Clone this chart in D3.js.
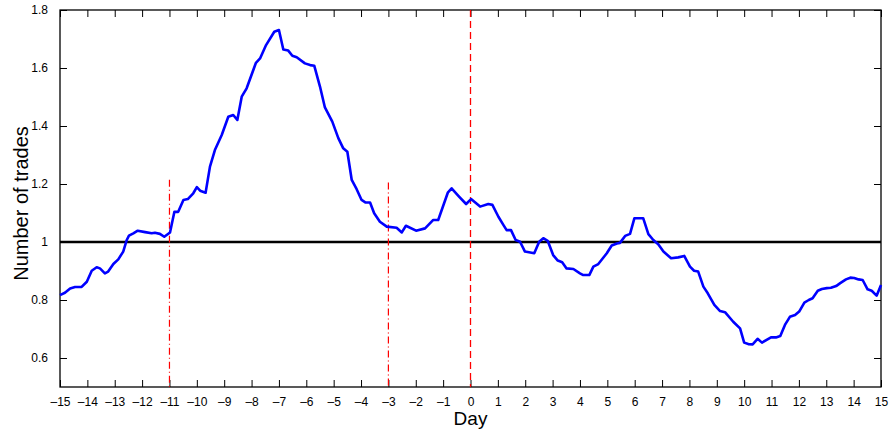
<!DOCTYPE html>
<html lang="en">
    <head>
        <meta charset="utf-8">
        <title>D3: Number of trades around event day</title>
        <script type="text/javascript" src="https://cdn.jsdelivr.net/npm/d3@7"></script>
        <style type="text/css">
            body { margin: 0; background: #fff; }
            text { font-family: "Liberation Sans", Arial, Helvetica, sans-serif; fill: #000; }
        </style>
    </head>
    <body>
        <script type="text/javascript">
            //Data
            var days = [-15.0, -14.82, -14.63, -14.45, -14.21, -14.02, -13.84, -13.66, -13.54, -13.36,
                        -13.24, -13.05, -12.87, -12.69, -12.56, -12.48, -12.32, -12.16, -11.89, -11.65,
                        -11.53, -11.35, -11.19, -10.98, -10.82, -10.68, -10.49, -10.33, -10.13, -10.0,
                        -9.88, -9.68, -9.52, -9.34, -9.09, -8.85, -8.67, -8.52, -8.36, -8.18,
                        -7.84, -7.69, -7.47, -7.17, -7.0, -6.84, -6.66, -6.51, -6.35, -6.05,
                        -5.86, -5.71, -5.5, -5.32, -5.05, -4.83, -4.65, -4.5, -4.34, -4.16,
                        -3.98, -3.83, -3.67, -3.52, -3.31, -3.06, -2.7, -2.51, -2.36, -1.99,
                        -1.66, -1.36, -1.18, -0.83, -0.69, -0.41, -0.16, 0.02, 0.35, 0.65,
                        0.8, 1.02, 1.2, 1.32, 1.48, 1.65, 1.81, 1.99, 2.33, 2.51,
                        2.66, 2.82, 3.02, 3.19, 3.35, 3.51, 3.76, 4.0, 4.12, 4.34,
                        4.49, 4.67, 4.98, 5.16, 5.35, 5.46, 5.65, 5.83, 5.99, 6.31,
                        6.5, 6.68, 6.86, 7.05, 7.33, 7.59, 7.81, 8.02, 8.17, 8.32,
                        8.51, 8.67, 8.91, 9.12, 9.3, 9.6, 9.85, 10.0, 10.15, 10.31,
                        10.49, 10.65, 10.98, 11.16, 11.32, 11.49, 11.67, 11.86, 12.01, 12.2,
                        12.36, 12.5, 12.69, 12.84, 13.02, 13.17, 13.36, 13.51, 13.72, 13.88,
                        14.02, 14.18, 14.33, 14.51, 14.66, 14.84, 15.0];
            var trades = [0.817, 0.825, 0.840, 0.845, 0.845, 0.863, 0.901, 0.913, 0.909, 0.892,
                          0.898, 0.924, 0.940, 0.967, 1.007, 1.022, 1.030, 1.039, 1.034, 1.030,
                          1.032, 1.028, 1.018, 1.033, 1.104, 1.104, 1.145, 1.148, 1.168, 1.189,
                          1.177, 1.170, 1.260, 1.317, 1.369, 1.432, 1.438, 1.421, 1.501, 1.530,
                          1.618, 1.633, 1.679, 1.725, 1.731, 1.664, 1.660, 1.642, 1.637, 1.616,
                          1.610, 1.608, 1.536, 1.464, 1.415, 1.358, 1.323, 1.311, 1.214, 1.182,
                          1.145, 1.136, 1.136, 1.099, 1.070, 1.053, 1.049, 1.033, 1.056, 1.039,
                          1.047, 1.076, 1.076, 1.170, 1.185, 1.156, 1.131, 1.148, 1.122, 1.131,
                          1.128, 1.087, 1.059, 1.041, 1.041, 1.007, 1.001, 0.967, 0.961, 1.001,
                          1.013, 1.004, 0.955, 0.936, 0.930, 0.909, 0.907, 0.892, 0.886, 0.886,
                          0.915, 0.924, 0.961, 0.988, 0.995, 0.997, 1.021, 1.028, 1.082, 1.082,
                          1.027, 1.007, 0.992, 0.967, 0.944, 0.947, 0.952, 0.915, 0.901, 0.898,
                          0.846, 0.823, 0.783, 0.762, 0.758, 0.725, 0.702, 0.653, 0.648, 0.647,
                          0.666, 0.653, 0.671, 0.671, 0.676, 0.714, 0.742, 0.748, 0.760, 0.791,
                          0.800, 0.806, 0.832, 0.838, 0.841, 0.842, 0.848, 0.858, 0.871, 0.877,
                          0.876, 0.871, 0.869, 0.837, 0.832, 0.815, 0.852];

            //Event markers: dash-dot lines and the dashed day-0 line
            var markerDays = [-11, -3];
            var markerTops = [1.215, 1.205];
            var eventDay = 0;
            var baseline = 1;

            var xTicks = d3.range(-15, 16, 1);
            var yTicks = [0.6, 0.8, 1, 1.2, 1.4, 1.6, 1.8];

            //Width and height
            var w = 891;
            var h = 434;
            var margin = {top: 10, right: 10, bottom: 47, left: 60};
            var pw = w - margin.left - margin.right;
            var ph = h - margin.top - margin.bottom;

            var x = d3.scaleLinear().domain([-15, 15]).range([0, pw]);
            var y = d3.scaleLinear().domain([0.5, 1.8]).range([ph, 0]);

            var points = days.map(function(d, i) { return {day: d, val: trades[i]}; });

            //Create SVG element
            var svg = d3.select("body")
                        .append("svg")
                        .attr("width", w)
                        .attr("height", h);
            var g = svg.append("g")
                .attr("transform", "translate(" + margin.left + "," + margin.top + ")");

            // ticks point inwards on all four sides, like matlab; en dash for minus
            var fmtX = function(d) { return d < 0 ? "\u2013" + Math.abs(d) : String(d); };
            var fmtY = d3.format("~g");
            var xBottom = d3.axisBottom(x).tickValues(xTicks).tickSizeInner(-7).tickSizeOuter(0)
                .tickPadding(10).tickFormat(fmtX);
            var xTop = d3.axisTop(x).tickValues(xTicks).tickSizeInner(-7).tickSizeOuter(0).tickFormat("");
            var yLeft = d3.axisLeft(y).tickValues(yTicks).tickSizeInner(-7).tickSizeOuter(0)
                .tickPadding(12).tickFormat(fmtY);
            var yRight = d3.axisRight(y).tickValues(yTicks).tickSizeInner(-7).tickSizeOuter(0).tickFormat("");

            g.append("g").attr("transform", "translate(0," + ph + ")").call(xBottom);
            g.append("g").call(xTop);
            g.append("g").call(yLeft);
            g.append("g").attr("transform", "translate(" + pw + ",0)").call(yRight);

            g.selectAll(".tick line").attr("stroke", "#000").attr("stroke-width", 1);
            g.selectAll(".domain").remove();
            g.selectAll(".tick text")
                .style("font-size", "12px")
                .style("font-family", "'Liberation Sans', Arial, sans-serif");

            //Frame
            g.append("rect")
                .attr("x", 0).attr("y", 0)
                .attr("width", pw).attr("height", ph)
                .attr("fill", "none")
                .attr("stroke", "#000")
                .attr("stroke-width", 1.3);

            //Baseline at 1
            g.append("line")
                .attr("x1", 0).attr("x2", pw)
                .attr("y1", y(baseline)).attr("y2", y(baseline))
                .attr("stroke", "#000")
                .attr("stroke-width", 2.6);

            //Red marker lines
            g.selectAll("line.marker")
                .data(markerDays)
                .enter()
                .append("line")
                .attr("class", "marker")
                .attr("x1", function(d) { return x(d); })
                .attr("x2", function(d) { return x(d); })
                .attr("y1", function(d, i) { return y(markerTops[i]); })
                .attr("y2", ph)
                .attr("stroke", "#ff0000")
                .attr("stroke-width", 1.2)
                .attr("stroke-dasharray", "7,3,1,3");

            g.append("line")
                .attr("x1", x(eventDay)).attr("x2", x(eventDay))
                .attr("y1", 0).attr("y2", ph)
                .attr("stroke", "#ff0000")
                .attr("stroke-width", 1.3)
                .attr("stroke-dasharray", "7,4");

            //The series
            var line = d3.line()
                .x(function(d) { return x(d.day); })
                .y(function(d) { return y(d.val); });
            g.append("path")
                .datum(points)
                .attr("d", line)
                .attr("fill", "none")
                .attr("stroke", "#0000ff")
                .attr("stroke-width", 2.6)
                .attr("stroke-linejoin", "round");

            //Axis titles
            svg.append("text")
                .attr("x", margin.left + pw / 2)
                .attr("y", 425)
                .attr("text-anchor", "middle")
                .style("font-size", "19px")
                .text("Day");
            svg.append("text")
                .attr("transform", "translate(28," + (margin.top + ph / 2 + 5) + ") rotate(-90)")
                .attr("text-anchor", "middle")
                .style("font-size", "20px")
                .text("Number of trades");
        </script>
    </body>
</html>
